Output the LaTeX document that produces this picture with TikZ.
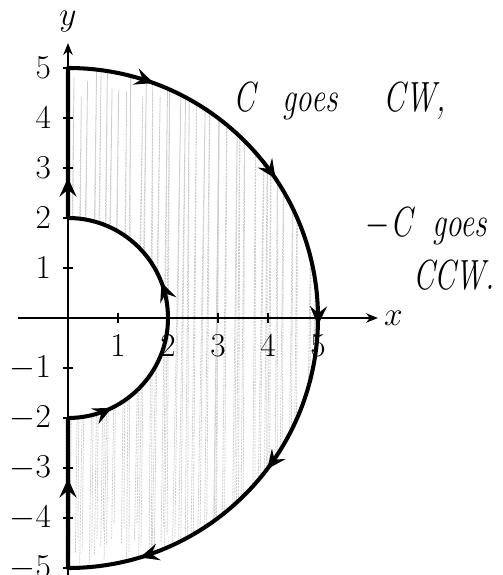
\RequirePackage{fix-cm}
\documentclass[tikz,border=0pt]{standalone}
\usetikzlibrary{arrows.meta,decorations.markings}
\begin{document}
\begin{tikzpicture}[
  tick/.style={line width=0.6pt},
  axisline/.style={line width=0.9pt,-{Stealth[length=2.4mm,width=1.9mm]}},
  ticklbl/.style={font=\fontsize{19}{22}\selectfont,inner sep=1pt},
  hand/.style={font=\fontsize{24}{28}\selectfont\itshape,inner sep=0pt,anchor=base west},
  scribble/.style={gray!40,line width=0.45pt,dash pattern=on 1.2pt off 0.6pt},
]
\useasboundingbox (-1.36,-5.14) rectangle (8.68,6.36);

% shaded region (pencil scribble)
\begin{scope}
  \clip (0,5) arc[start angle=90,end angle=-90,radius=5] -- (0,-2)
        arc[start angle=-90,end angle=90,radius=2] -- cycle;
  \pgfmathsetseed{7}
  \foreach \i in {0,...,38}{
    \pgfmathsetmacro{\xa}{0.13*\i+0.08*rand}
    \pgfmathsetmacro{\xb}{\xa+0.12+0.05*rand}
    \pgfmathsetmacro{\ya}{-5.2+0.8*rnd}
    \pgfmathsetmacro{\yb}{5.2-0.8*rnd}
    \draw[scribble] (\xa,\ya) -- (\xb,\yb) -- (\xa+0.05,\ya+0.3);
  }
\end{scope}

% axes
\coordinate (xs) at (-1,0);
\coordinate (xe) at (6.2,0);
\coordinate (ys) at (0,-5.5);
\coordinate (ye) at (0,5.5);
\draw[axisline] (xs) -- (xe);
\draw[axisline] (ys) -- (ye);
\node[font=\fontsize{19}{22}\selectfont,anchor=west] (xlab) at (xe) {$x$};
\node[font=\fontsize{19}{22}\selectfont] (ylab) at (0,5.93) {$y$};

% ticks and labels
\foreach \x in {1,...,5}{
  \draw[tick] (\x,-0.1) -- (\x,0.1);
  \node[ticklbl] (xl\x) at (\x,-0.56) {$\x$};
}
\foreach \y in {-5,-4,-3,-2,-1,1,2,3,4,5}{
  \draw[tick] (-0.1,\y) -- (0.1,\y);
  \node[ticklbl,anchor=east] (yl\y) at (-0.3,\y) {$\y$};
}

% the curve C
\draw[line width=2.3pt,line join=round,
  decoration={markings,
    mark=at position 1.75cm with {\arrow{Stealth[length=3.8mm,width=3.4mm,inset=1.4mm]}},
    mark=at position 4.9cm with {\arrow{Stealth[length=3.8mm,width=3.4mm,inset=1.4mm]}},
    mark=at position 8.0cm with {\arrow{Stealth[length=3.8mm,width=3.4mm,inset=1.4mm]}},
    mark=at position 11.1cm with {\arrow{Stealth[length=3.8mm,width=3.4mm,inset=1.4mm]}},
    mark=at position 14.25cm with {\arrow{Stealth[length=3.8mm,width=3.4mm,inset=1.4mm]}},
    mark=at position 17.5cm with {\arrow{Stealth[length=3.8mm,width=3.4mm,inset=1.4mm]}},
    mark=at position 19.62cm with {\arrow{Stealth[length=3.8mm,width=3.4mm,inset=1.4mm]}},
    mark=at position 22.58cm with {\arrow{Stealth[length=3.8mm,width=3.4mm,inset=1.4mm]}},
    mark=at position 25.8cm with {\arrow{Stealth[length=3.8mm,width=3.4mm,inset=1.4mm]}}
  },postaction={decorate}]
  (0,5) arc[start angle=90,end angle=-90,radius=5] -- (0,-2)
  arc[start angle=-90,end angle=90,radius=2] -- cycle;

% handwritten notes
\node[hand] (n1) at (3.3,4.12) {\scalebox{0.74}[1]{C\hspace{0.75cm}goes\hspace{1.25cm}CW,}};
\node[hand] (n2) at (5.95,1.62) {\scalebox{0.74}[1]{$-$C\hspace{0.55cm}goes}};
\node[hand] (n3) at (6.9,0.56) {\scalebox{0.72}[1]{CCW.}};
\end{tikzpicture}
\end{document}
